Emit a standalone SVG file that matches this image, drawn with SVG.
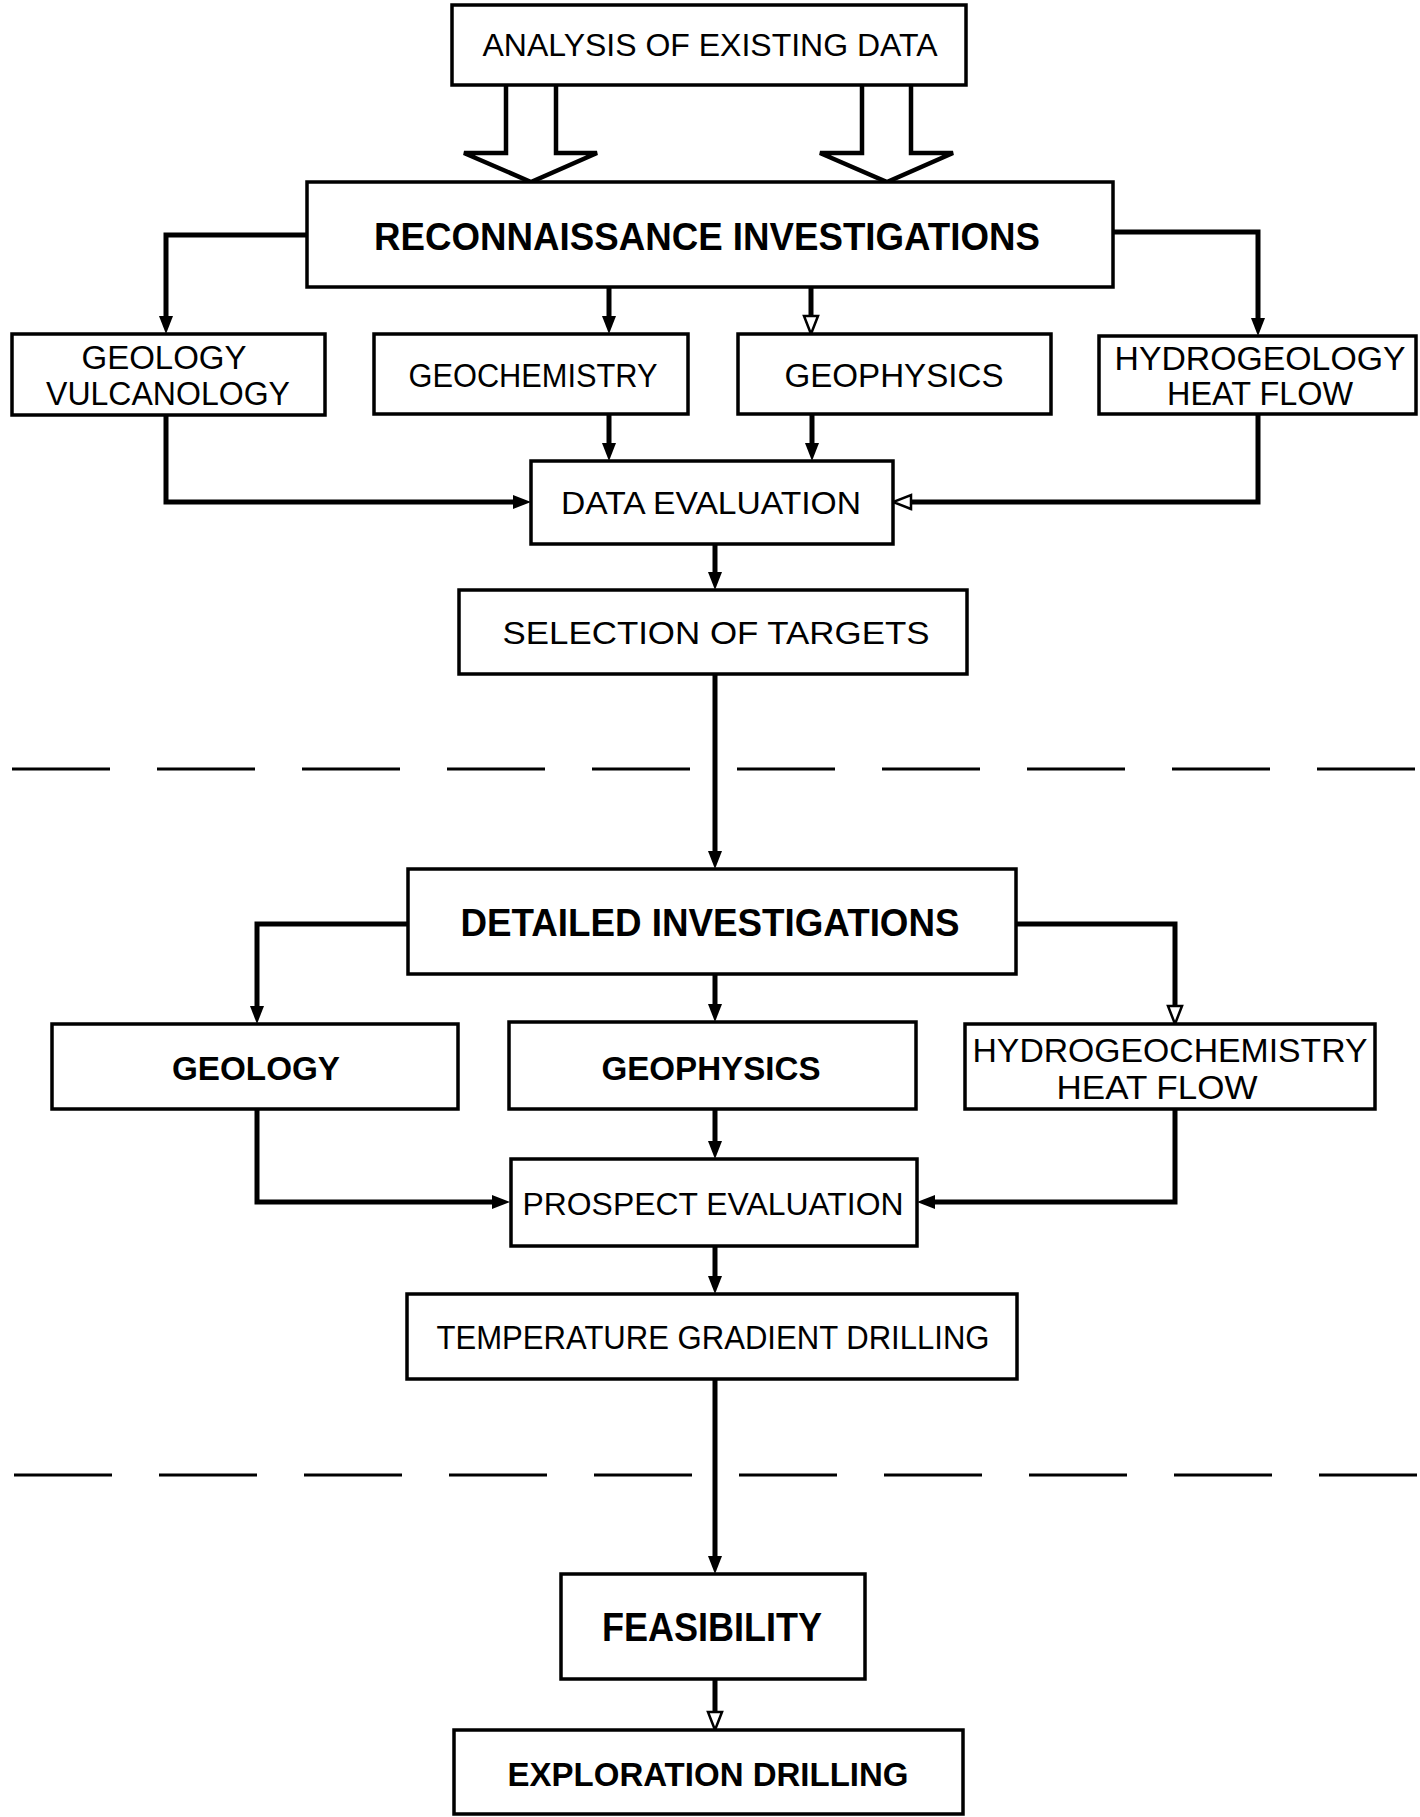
<svg xmlns="http://www.w3.org/2000/svg" width="1420" height="1817" viewBox="0 0 1420 1817">
<defs>
<style>
.box{fill:#fff;stroke:#000;stroke-width:3.5}
.t{font-family:"Liberation Sans",Arial,sans-serif;fill:#000;text-anchor:middle}
.b{font-weight:bold}
.c{fill:none;stroke:#000;stroke-width:5}
.dash{fill:none;stroke:#000;stroke-width:3;stroke-dasharray:98 47}
.big{fill:#fff;stroke:#000;stroke-width:4.5;stroke-linejoin:miter}
</style>
<marker id="ah" markerUnits="userSpaceOnUse" viewBox="0 0 18 14" markerWidth="18" markerHeight="14" refX="8" refY="7" orient="auto">
<path d="M0,0 L18,7 L0,14 z" fill="#000"/>
</marker>
<marker id="ho" markerUnits="userSpaceOnUse" viewBox="-2 -2 22 18" markerWidth="22" markerHeight="18" refX="8" refY="7" orient="auto">
<path d="M0,0 L18,7 L0,14 z" fill="#fff" stroke="#000" stroke-width="2.5"/>
</marker>
</defs>
<rect width="1420" height="1817" fill="#fff"/>

<g id="connectors">
<path class="big" d="M506,85 V153 H464 L531,182 L597,153 H556 V85"/>
<path class="big" d="M862,85 V153 H820 L887,182 L953,153 H911 V85"/>
<path class="c" d="M307,235 H166 V324" marker-end="url(#ah)"/>
<path class="c" d="M609,287 V324" marker-end="url(#ah)"/>
<path class="c" d="M811,287 V324" marker-end="url(#ho)"/>
<path class="c" d="M1113,232 H1258 V326" marker-end="url(#ah)"/>
<path class="c" d="M166,415 V502 H521" marker-end="url(#ah)"/>
<path class="c" d="M609,414 V451" marker-end="url(#ah)"/>
<path class="c" d="M812,414 V451" marker-end="url(#ah)"/>
<path class="c" d="M1258,414 V502 H903" marker-end="url(#ho)"/>
<path class="c" d="M715,544 V580" marker-end="url(#ah)"/>
<path class="c" d="M715,674 V859" marker-end="url(#ah)"/>
<path class="c" d="M408,924 H257 V1014" marker-end="url(#ah)"/>
<path class="c" d="M715,974 V1012" marker-end="url(#ah)"/>
<path class="c" d="M1016,924 H1175 V1014" marker-end="url(#ho)"/>
<path class="c" d="M257,1109 V1202 H500" marker-end="url(#ah)"/>
<path class="c" d="M715,1109 V1149" marker-end="url(#ah)"/>
<path class="c" d="M1175,1109 V1202 H927" marker-end="url(#ah)"/>
<path class="c" d="M715,1246 V1284" marker-end="url(#ah)"/>
<path class="c" d="M715,1379 V1564" marker-end="url(#ah)"/>
<path class="c" d="M715,1679 V1720" marker-end="url(#ho)"/>
</g>

<g id="dividers">
<line class="dash" x1="12" y1="769" x2="1420" y2="769"/>
<line class="dash" x1="14" y1="1475" x2="1420" y2="1475"/>
</g>

<g id="analysis">
<rect class="box" x="452" y="5" width="514" height="80"/>
<text class="t" x="710" y="56" font-size="31" textLength="455" lengthAdjust="spacingAndGlyphs">ANALYSIS OF EXISTING DATA</text>
</g>
<g id="reconnaissance">
<rect class="box" x="307" y="182" width="806" height="105"/>
<text class="t b" x="707" y="250" font-size="39" textLength="666" lengthAdjust="spacingAndGlyphs">RECONNAISSANCE INVESTIGATIONS</text>
</g>
<g id="geology1">
<rect class="box" x="12" y="334" width="313" height="81"/>
<text class="t" x="164" y="369" font-size="33" textLength="165" lengthAdjust="spacingAndGlyphs">GEOLOGY</text>
<text class="t" x="168" y="405" font-size="33" textLength="244" lengthAdjust="spacingAndGlyphs">VULCANOLOGY</text>
</g>
<g id="geochemistry">
<rect class="box" x="374" y="334" width="314" height="80"/>
<text class="t" x="533" y="387" font-size="33" textLength="249" lengthAdjust="spacingAndGlyphs">GEOCHEMISTRY</text>
</g>
<g id="geophysics1">
<rect class="box" x="738" y="334" width="313" height="80"/>
<text class="t" x="894" y="387" font-size="33" textLength="219" lengthAdjust="spacingAndGlyphs">GEOPHYSICS</text>
</g>
<g id="hydrogeology">
<rect class="box" x="1099" y="336" width="317" height="78"/>
<text class="t" x="1260" y="370" font-size="33" textLength="291" lengthAdjust="spacingAndGlyphs">HYDROGEOLOGY</text>
<text class="t" x="1260" y="405" font-size="33" textLength="186" lengthAdjust="spacingAndGlyphs">HEAT FLOW</text>
</g>
<g id="data-evaluation">
<rect class="box" x="531" y="461" width="362" height="83"/>
<text class="t" x="711" y="514" font-size="31" textLength="300" lengthAdjust="spacingAndGlyphs">DATA EVALUATION</text>
</g>
<g id="selection">
<rect class="box" x="459" y="590" width="508" height="84"/>
<text class="t" x="716" y="644" font-size="32" textLength="427" lengthAdjust="spacingAndGlyphs">SELECTION OF TARGETS</text>
</g>
<g id="detailed">
<rect class="box" x="408" y="869" width="608" height="105"/>
<text class="t b" x="710" y="936" font-size="38" textLength="499" lengthAdjust="spacingAndGlyphs">DETAILED INVESTIGATIONS</text>
</g>
<g id="geology2">
<rect class="box" x="52" y="1024" width="406" height="85"/>
<text class="t b" x="256" y="1080" font-size="34" textLength="168" lengthAdjust="spacingAndGlyphs">GEOLOGY</text>
</g>
<g id="geophysics2">
<rect class="box" x="509" y="1022" width="407" height="87"/>
<text class="t b" x="711" y="1080" font-size="34" textLength="219" lengthAdjust="spacingAndGlyphs">GEOPHYSICS</text>
</g>
<g id="hydrogeochemistry">
<rect class="box" x="965" y="1024" width="410" height="85"/>
<text class="t" x="1170" y="1062" font-size="33" textLength="395" lengthAdjust="spacingAndGlyphs">HYDROGEOCHEMISTRY</text>
<text class="t" x="1157" y="1099" font-size="33" textLength="201" lengthAdjust="spacingAndGlyphs">HEAT FLOW</text>
</g>
<g id="prospect">
<rect class="box" x="511" y="1159" width="406" height="87"/>
<text class="t" x="713" y="1215" font-size="32" textLength="381" lengthAdjust="spacingAndGlyphs">PROSPECT EVALUATION</text>
</g>
<g id="temperature">
<rect class="box" x="407" y="1294" width="610" height="85"/>
<text class="t" x="713" y="1349" font-size="33" textLength="553" lengthAdjust="spacingAndGlyphs">TEMPERATURE GRADIENT DRILLING</text>
</g>
<g id="feasibility">
<rect class="box" x="561" y="1574" width="304" height="105"/>
<text class="t b" x="712" y="1641" font-size="40" textLength="220" lengthAdjust="spacingAndGlyphs">FEASIBILITY</text>
</g>
<g id="exploration">
<rect class="box" x="454" y="1730" width="509" height="84"/>
<text class="t b" x="708" y="1786" font-size="34" textLength="401" lengthAdjust="spacingAndGlyphs">EXPLORATION DRILLING</text>
</g>
</svg>
